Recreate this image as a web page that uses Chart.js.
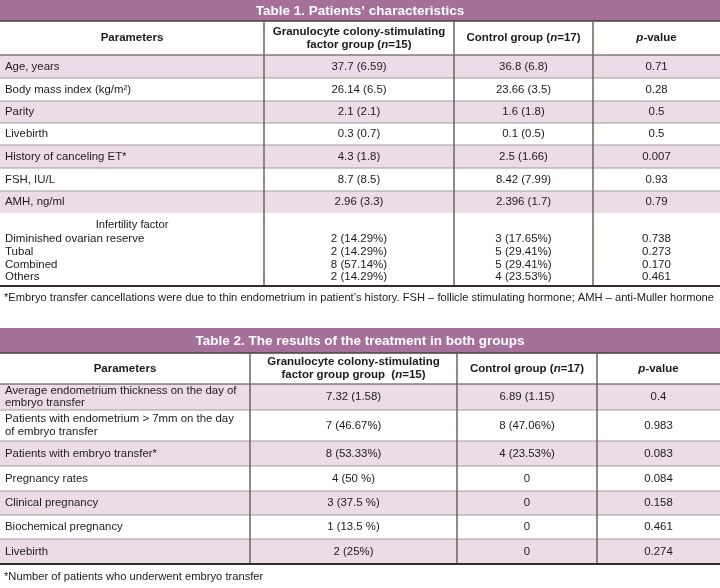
<!DOCTYPE html>
<html>
<head>
<meta charset="utf-8">
<script src="https://cdn.jsdelivr.net/npm/chart.js@4.4.1/dist/chart.umd.min.js"></script>
<style>
  html, body { margin: 0; padding: 0; background: #fff; }
  #wrap { width: 720px; height: 588px; }
</style>
</head>
<body>
<div id="wrap"><canvas id="tables" width="720" height="588"></canvas></div>
<script>
// ---- data: table 1 ----
const t1Title = "Table 1. Patients\u2019 characteristics";
const t1Head = ["Parameters", "Granulocyte colony-stimulating|factor group (_n_=15)", "Control group (_n_=17)", "_p_-value"];
const t1Params = ["Age, years", "Body mass index (kg/m\u00b2)", "Parity", "Livebirth", "History of canceling ET*", "FSH, IU/L", "AMH, ng/ml"];
const t1Gcsf = ["37.7 (6.59)", "26.14 (6.5)", "2.1 (2.1)", "0.3 (0.7)", "4.3 (1.8)", "8.7 (8.5)", "2.96 (3.3)"];
const t1Control = ["36.8 (6.8)", "23.66 (3.5)", "1.6 (1.8)", "0.1 (0.5)", "2.5 (1.66)", "8.42 (7.99)", "2.396 (1.7)"];
const t1P = ["0.71", "0.28", "0.5", "0.5", "0.007", "0.93", "0.79"];

const infTitle = "Infertility factor";
const infParams = ["Diminished ovarian reserve", "Tubal", "Combined", "Others"];
const infGcsf = ["2 (14.29%)", "2 (14.29%)", "8 (57.14%)", "2 (14.29%)"];
const infControl = ["3 (17.65%)", "5 (29.41%)", "5 (29.41%)", "4 (23.53%)"];
const infP = ["0.738", "0.273", "0.170", "0.461"];
const t1Note = "*Embryo transfer cancellations were due to thin endometrium in patient\u2019s history. FSH \u2013 follicle stimulating hormone; AMH \u2013 anti-Muller hormone";

// ---- data: table 2 ----
const t2Title = "Table 2. The results of the treatment in both groups";
const t2Head = ["Parameters", "Granulocyte colony-stimulating|factor group group  (_n_=15)", "Control group (_n_=17)", "_p_-value"];
const t2Params = ["Average endometrium thickness on the day of|embryo transfer", "Patients with endometrium > 7mm on the day|of embryo transfer", "Patients with embryo transfer*", "Pregnancy rates", "Clinical pregnancy", "Biochemical pregnancy", "Livebirth"];
const t2Gcsf = ["7.32 (1.58)", "7 (46.67%)", "8 (53.33%)", "4 (50 %)", "3 (37.5 %)", "1 (13.5 %)", "2 (25%)"];
const t2Control = ["6.89 (1.15)", "8 (47.06%)", "4 (23.53%)", "0", "0", "0", "0"];
const t2P = ["0.4", "0.983", "0.083", "0.084", "0.158", "0.461", "0.274"];
const t2Note = "*Number of patients who underwent embryo transfer";

// ---- layout (scale units = px) ----
const FONT = '"Liberation Sans", Arial, sans-serif';
const PURPLE = "#a5719a";
const PINK = "#ebdce8";
const TEXT = "#1e1a1b";

const layout1 = {
  title: [0, 21], head: [21, 55],
  rows: [55, 78, 101, 123, 145, 168, 191, 213],
  cols: [0, 264, 454, 593, 720],
  bottom: 286, note: 298
};
const layout2 = {
  title: [328, 353], head: [353, 384],
  rows: [384, 410, 441, 466, 491, 515, 539, 564],
  cols: [0, 250, 457, 597, 720],
  bottom: 564, note: 577
};

function richText(ctx, str, x, y, align, weight, size) {
  const parts = str.split("_");
  const fontFor = i => (i % 2 ? "italic " : "") + weight + " " + size + "px " + FONT;
  let total = 0;
  parts.forEach((p, i) => { ctx.font = fontFor(i); total += ctx.measureText(p).width; });
  let cx = align === "center" ? x - total / 2 : x;
  ctx.textAlign = "left";
  parts.forEach((p, i) => { ctx.font = fontFor(i); ctx.fillText(p, cx, y); cx += ctx.measureText(p).width; });
}

function multiLine(ctx, str, x, yMid, align, weight, size, gap) {
  const lines = str.split("|");
  const y0 = yMid - (lines.length - 1) * gap / 2;
  lines.forEach((l, i) => richText(ctx, l, x, y0 + i * gap, align, weight, size));
}

function hline(ctx, X, Y, y, color, w) {
  ctx.strokeStyle = color; ctx.lineWidth = w;
  ctx.beginPath(); ctx.moveTo(X(0), Y(y)); ctx.lineTo(X(720), Y(y)); ctx.stroke();
}

function drawTable(ctx, X, Y, L, title, head, cols, extra, note) {
  const c = L.cols;
  const mid = i => X((c[i] + c[i + 1]) / 2);
  ctx.textBaseline = "middle";

  // title bar
  ctx.fillStyle = PURPLE;
  ctx.fillRect(X(0), Y(L.title[0]), X(720) - X(0), Y(L.title[1]) - Y(L.title[0]));
  ctx.fillStyle = "#fff";
  richText(ctx, title, X(360), Y((L.title[0] + L.title[1]) / 2) + 1, "center", "bold", 13.5);

  // header
  ctx.fillStyle = TEXT;
  const hy = Y((L.head[0] + L.head[1]) / 2);
  head.forEach((h, i) => {
    multiLine(ctx, h, mid(i), hy, "center", "bold", 11.5, 13);
  });

  // body rows
  const r = L.rows;
  for (let k = 0; k < r.length - 1; k++) {
    if (k % 2 === 0) {
      ctx.fillStyle = PINK;
      ctx.fillRect(X(0), Y(r[k]), X(720) - X(0), Y(r[k + 1]) - Y(r[k]));
    }
    const ym = Y((r[k] + r[k + 1]) / 2);
    ctx.fillStyle = TEXT;
    multiLine(ctx, cols[0][k], X(5), ym, "left", "normal", 11.4, 12.5);
    for (let j = 1; j < 4; j++) multiLine(ctx, cols[j][k], mid(j), ym, "center", "normal", 11.4, 12.5);
  }
  for (let k = 1; k < r.length - 1; k++) hline(ctx, X, Y, r[k], "#a29b9d", 1);

  if (extra) extra(mid);

  // rules
  hline(ctx, X, Y, L.title[1], "#4a423d", 1.5);
  hline(ctx, X, Y, L.head[1], "#4a423d", 1.2);
  ctx.strokeStyle = "#6e655c"; ctx.lineWidth = 1.5;
  for (let i = 1; i < 4; i++) {
    ctx.beginPath(); ctx.moveTo(X(c[i]), Y(L.head[0])); ctx.lineTo(X(c[i]), Y(L.bottom)); ctx.stroke();
  }
  hline(ctx, X, Y, L.bottom, "#332c28", 2);

  // footnote
  ctx.fillStyle = TEXT;
  ctx.font = "normal 11.2px " + FONT;
  ctx.textAlign = "left";
  ctx.fillText(note, X(4), Y(L.note), 710);
}

const tablePlugin = {
  id: "tables",
  afterDraw(chart) {
    const ctx = chart.ctx;
    const X = v => chart.scales.x.getPixelForValue(v);
    const Y = v => chart.scales.y.getPixelForValue(v);
    ctx.save();
    drawTable(ctx, X, Y, layout1, t1Title, t1Head, [t1Params, t1Gcsf, t1Control, t1P], function (mid) {
      ctx.fillStyle = TEXT;
      richText(ctx, infTitle, X(132), Y(225), "center", "normal", 11.2);
      const ys = [239, 251.5, 264.5, 277];
      ys.forEach((y, k) => {
        richText(ctx, infParams[k], X(5), Y(y), "left", "normal", 11.5);
        richText(ctx, infGcsf[k], mid(1), Y(y), "center", "normal", 11.5);
        richText(ctx, infControl[k], mid(2), Y(y), "center", "normal", 11.5);
        richText(ctx, infP[k], mid(3), Y(y), "center", "normal", 11.5);
      });
    }, t1Note);
    drawTable(ctx, X, Y, layout2, t2Title, t2Head, [t2Params, t2Gcsf, t2Control, t2P], null, t2Note);
    ctx.restore();
  }
};

new Chart(document.getElementById("tables"), {
  type: "scatter",
  data: { datasets: [] },
  options: {
    responsive: false,
    animation: false,
    layout: { padding: 0 },
    scales: {
      x: { type: "linear", min: 0, max: 720, display: false },
      y: { type: "linear", min: 0, max: 588, reverse: true, display: false }
    },
    plugins: { legend: { display: false }, tooltip: { enabled: false } }
  },
  plugins: [tablePlugin]
});
</script>
</body>
</html>
